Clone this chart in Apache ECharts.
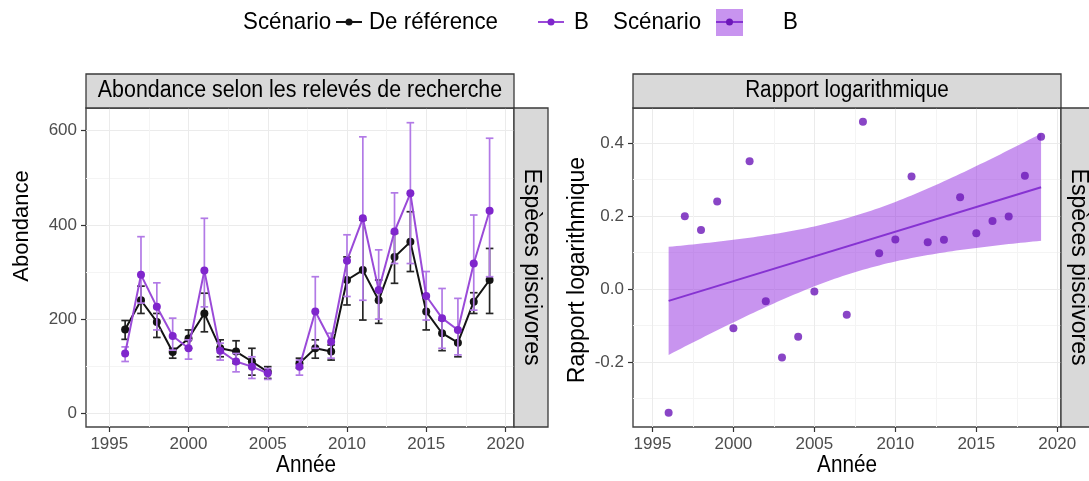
<!DOCTYPE html>
<html>
<head>
<meta charset="utf-8">
<script src="https://cdn.jsdelivr.net/npm/echarts@6/dist/echarts.min.js"></script>
<style>
  html, body { margin: 0; padding: 0; background: #ffffff; }
  #chart { width: 1089px; height: 481px; }
</style>
</head>
<body>
<div id="chart"></div>
<script>
// Survey years (2006 has no survey)
const years = [1996, 1997, 1998, 1999, 2000, 2001, 2002, 2003, 2004, 2005, 2006,
               2007, 2008, 2009, 2010, 2011, 2012, 2013, 2014, 2015, 2016, 2017, 2018, 2019];

// Scénario de référence: abundance and interval bounds
const refMean = [178, 240, 194, 130, 159, 212, 138, 131, 110, 88, null,
                 106, 138, 131, 283, 304, 240, 332, 364, 216, 170, 150, 237, 283];
const refLow  = [157, 212, 161, 117, 138, 173, 120, 106, 81, 74, null,
                 96, 117, 113, 230, 198, 191, 276, 301, 177, 133, 120, 212, 212];
const refHigh = [197, 270, 212, 138, 177, 255, 156, 154, 138, 99, null,
                 117, 156, 145, 332, 410, 283, 382, 428, 248, 198, 177, 256, 350];

// Scénario B: abundance and interval bounds
const bMean = [127, 294, 226, 164, 138, 303, 133, 110, 99, 85, null,
               99, 216, 152, 324, 414, 262, 386, 467, 249, 202, 177, 318, 430];
const bLow  = [110, 234, 177, 134, 115, 226, 113, 88, 74, 72, null,
               81, 138, 117, 248, 240, 200, 318, 318, 198, 138, 124, 219, 290];
const bHigh = [141, 375, 277, 202, 156, 414, 149, 127, 120, 95, null,
               113, 290, 170, 379, 587, 347, 468, 617, 301, 265, 244, 421, 584];

// Log ratio B / référence
const logRatio = [-0.340, 0.200, 0.162, 0.240, -0.108, 0.351, -0.034, -0.188, -0.131, -0.007, null,
                  -0.071, 0.459, 0.098, 0.136, 0.309, 0.128, 0.135, 0.252, 0.153, 0.187, 0.199, 0.311, 0.418];

// Tick labels
const yearTicks = [1995, 2000, 2005, 2010, 2015, 2020];
const yearMinor = [1997.5, 2002.5, 2007.5, 2012.5, 2017.5];
const abundTicks = [0, 200, 400, 600];
const abundMinor = [100, 300, 500];
const ratioTicks = [-0.2, 0.0, 0.2, 0.4];
const ratioMinor = [-0.3, -0.1, 0.1, 0.3];

// ---- linear fit with 95% confidence band (lm) ----
const pairs = years.map((y, i) => [y, logRatio[i]]).filter(p => p[1] != null);
const n = pairs.length;
const mx = pairs.reduce((s, p) => s + p[0], 0) / n;
const my = pairs.reduce((s, p) => s + p[1], 0) / n;
let sxx = 0, sxy = 0;
pairs.forEach(p => { sxx += (p[0] - mx) ** 2; sxy += (p[0] - mx) * (p[1] - my); });
const slope = sxy / sxx;
const intercept = my - slope * mx;
const fit = x => intercept + slope * x;
let sse = 0;
pairs.forEach(p => { sse += (p[1] - fit(p[0])) ** 2; });
const sRes = Math.sqrt(sse / (n - 2));
const T_CRIT = 2.080; // t(0.975, df = 21)
const xFirst = pairs[0][0], xLast = pairs[n - 1][0];
const bandUpper = [], bandLower = [];
for (let k = 0; k <= 92; k++) {
  const x = xFirst + (xLast - xFirst) * k / 92;
  const half = T_CRIT * sRes * Math.sqrt(1 / n + (x - mx) ** 2 / sxx);
  bandUpper.push([x, fit(x) + half]);
  bandLower.push([x, fit(x) - half]);
}

// ---- styling ----
const FONT = "'Liberation Sans', Arial, sans-serif";
const BLACK = '#141414';
const PURPLE_LINE = '#9a4ad8';
const PURPLE_BAR = '#b27ae6';
const PURPLE_PT = '#7f26cc';
const FIT_LINE = '#8633d2';
const RATIO_PT = '#6c17b8';
const BAND_FILL = 'rgba(150, 50, 225, 0.52)';
const STRIP_FILL = '#d9d9d9';
const STRIP_STROKE = '#3a3a3a';

function errorBars(color) {
  return function (params, api) {
    const x = api.value(0);
    const lo = api.coord([x, api.value(1)]);
    const hi = api.coord([x, api.value(2)]);
    const hw = 3.8;
    const style = { stroke: color, lineWidth: 1.7, fill: null };
    return {
      type: 'group',
      children: [
        { type: 'line', shape: { x1: lo[0], y1: lo[1], x2: hi[0], y2: hi[1] }, style },
        { type: 'line', shape: { x1: lo[0] - hw, y1: lo[1], x2: lo[0] + hw, y2: lo[1] }, style },
        { type: 'line', shape: { x1: hi[0] - hw, y1: hi[1], x2: hi[0] + hw, y2: hi[1] }, style }
      ]
    };
  };
}

const barData = (lo, hi) => years.map((y, i) => [y, lo[i], hi[i]]).filter(d => d[1] != null);
const lineData = vals => years.map((y, i) => [y, vals[i] == null ? '-' : vals[i]]);

const tickStyle = { color: '#333', width: 1.2 };
const labelStyle = { color: '#4d4d4d', fontSize: 17, fontFamily: FONT, margin: 9 };

function mainX(gridIndex, min, max) {
  return {
    type: 'value', gridIndex, min, max,
    axisLine: { show: false, onZero: false },
    axisTick: { show: true, length: 5, lineStyle: tickStyle, customValues: yearTicks },
    axisLabel: Object.assign({ customValues: yearTicks, formatter: v => String(v) }, labelStyle),
    splitLine: { show: true, lineStyle: { color: '#ebebeb', width: 1 } }
  };
}
function minorX(gridIndex, min, max) {
  return {
    type: 'value', gridIndex, min, max,
    axisLine: { show: false, onZero: false },
    axisTick: { show: false, customValues: yearMinor },
    axisLabel: { show: false, customValues: yearMinor },
    splitLine: { show: true, lineStyle: { color: '#f4f4f4', width: 1 } }
  };
}
function mainY(gridIndex, min, max, ticks, fmt) {
  return {
    type: 'value', gridIndex, min, max,
    axisLine: { show: false, onZero: false },
    axisTick: { show: true, length: 5, lineStyle: tickStyle, customValues: ticks },
    axisLabel: Object.assign({ customValues: ticks, formatter: fmt }, labelStyle),
    splitLine: { show: true, lineStyle: { color: '#ebebeb', width: 1 } }
  };
}
function minorY(gridIndex, min, max, ticks) {
  return {
    type: 'value', gridIndex, min, max,
    axisLine: { show: false, onZero: false },
    axisTick: { show: false, customValues: ticks },
    axisLabel: { show: false, customValues: ticks },
    splitLine: { show: true, lineStyle: { color: '#f4f4f4', width: 1 } }
  };
}

const chart = echarts.init(document.getElementById('chart'), null, { renderer: 'canvas' });

// Text helper: centred text, optional rotation and horizontal squeeze
const label = (text, x, y, size, opts) => Object.assign({
  type: 'text', x, y, z: 100,
  style: { text, fill: '#000', font: `${size}px ${FONT}`, textAlign: 'center', textVerticalAlign: 'middle' }
}, opts || {});
const legendText = (text, x) => ({
  type: 'text', x, y: 22, scaleX: 0.93, z: 100,
  style: { text, fill: '#000', font: `24px ${FONT}`, textVerticalAlign: 'middle' }
});

const option = {
  animation: false,
  backgroundColor: '#ffffff',
  grid: [
    { left: 86, right: 1089 - 514, top: 108, bottom: 481 - 427, show: true, borderColor: '#444', borderWidth: 1.4, backgroundColor: '#fff' },
    { left: 633, right: 1089 - 1061, top: 108, bottom: 481 - 427, show: true, borderColor: '#444', borderWidth: 1.4, backgroundColor: '#fff' }
  ],
  xAxis: [
    mainX(0, 1993.53, 2020.54),
    minorX(0, 1993.53, 2020.54),
    mainX(1, 1993.8, 2020.23),
    minorX(1, 1993.8, 2020.23)
  ],
  yAxis: [
    mainY(0, -29.1, 648.2, abundTicks, v => String(v)),
    minorY(0, -29.1, 648.2, abundMinor),
    mainY(1, -0.379, 0.497, ratioTicks, v => v.toFixed(1)),
    minorY(1, -0.379, 0.497, ratioMinor)
  ],
  series: [
    // Abondance: référence
    { type: 'custom', xAxisIndex: 0, yAxisIndex: 0, renderItem: errorBars('#262626'),
      encode: { x: 0, y: [1, 2] }, data: barData(refLow, refHigh), z: 2 },
    { type: 'line', xAxisIndex: 0, yAxisIndex: 0, data: lineData(refMean), connectNulls: false,
      symbol: 'circle', symbolSize: 8, itemStyle: { color: BLACK },
      lineStyle: { color: BLACK, width: 2 }, z: 3 },
    // Abondance: B
    { type: 'custom', xAxisIndex: 0, yAxisIndex: 0, renderItem: errorBars(PURPLE_BAR),
      encode: { x: 0, y: [1, 2] }, data: barData(bLow, bHigh), z: 4 },
    { type: 'line', xAxisIndex: 0, yAxisIndex: 0, data: lineData(bMean), connectNulls: false,
      symbol: 'circle', symbolSize: 8, itemStyle: { color: PURPLE_PT },
      lineStyle: { color: PURPLE_LINE, width: 2 }, z: 5 },
    // Rapport logarithmique: confidence band, fit, points
    { type: 'custom', xAxisIndex: 2, yAxisIndex: 2, encode: { x: 0, y: 1 }, data: [[xFirst, fit(xFirst)]], z: 2,
      renderItem: (params, api) => ({
        type: 'polygon',
        shape: { points: bandUpper.map(p => api.coord(p)).concat(bandLower.slice().reverse().map(p => api.coord(p))) },
        style: { fill: BAND_FILL }
      }) },
    { type: 'line', xAxisIndex: 2, yAxisIndex: 2, data: [[xFirst, fit(xFirst)], [xLast, fit(xLast)]],
      symbol: 'none', lineStyle: { color: FIT_LINE, width: 2 }, z: 3 },
    { type: 'scatter', xAxisIndex: 2, yAxisIndex: 2, data: lineData(logRatio).filter(d => d[1] !== '-'),
      symbol: 'circle', symbolSize: 8, itemStyle: { color: RATIO_PT }, z: 4 }
  ],
  graphic: [
    // Facet strips
    { type: 'rect', shape: { x: 86, y: 74, width: 428, height: 34 }, style: { fill: STRIP_FILL, stroke: STRIP_STROKE, lineWidth: 1.3 }, z: 50 },
    { type: 'rect', shape: { x: 514, y: 108, width: 34, height: 319 }, style: { fill: STRIP_FILL, stroke: STRIP_STROKE, lineWidth: 1.3 }, z: 50 },
    { type: 'rect', shape: { x: 633, y: 74, width: 428, height: 34 }, style: { fill: STRIP_FILL, stroke: STRIP_STROKE, lineWidth: 1.3 }, z: 50 },
    { type: 'rect', shape: { x: 1061, y: 108, width: 40, height: 319 }, style: { fill: STRIP_FILL, stroke: STRIP_STROKE, lineWidth: 1.3 }, z: 50 },
    label('Abondance selon les relevés de recherche', 300, 91, 23, { scaleX: 0.93 }),
    label('Rapport logarithmique', 847, 91, 23, { scaleX: 0.9 }),
    label('Espèces piscivores', 531, 267, 23, { rotation: -Math.PI / 2 }),
    label('Espèces piscivores', 1078, 267, 23, { rotation: -Math.PI / 2 }),
    // Axis titles
    label('Année', 306, 466, 23, { scaleX: 0.9 }),
    label('Année', 847, 466, 23, { scaleX: 0.9 }),
    label('Abondance', 22, 226, 22, { rotation: Math.PI / 2 }),
    label('Rapport logarithmique', 578, 270, 23, { rotation: Math.PI / 2 }),
    // Legend
    legendText('Scénario', 243),
    { type: 'line', shape: { x1: 336, y1: 22, x2: 362, y2: 22 }, style: { stroke: BLACK, lineWidth: 2 } },
    { type: 'circle', shape: { cx: 349, cy: 22, r: 3.5 }, style: { fill: BLACK } },
    legendText('De référence', 369),
    { type: 'line', shape: { x1: 538, y1: 22, x2: 564, y2: 22 }, style: { stroke: PURPLE_LINE, lineWidth: 2 } },
    { type: 'circle', shape: { cx: 551, cy: 22, r: 3.5 }, style: { fill: PURPLE_PT } },
    legendText('B', 574),
    legendText('Scénario', 613),
    { type: 'rect', shape: { x: 716, y: 9, width: 27, height: 27 }, style: { fill: BAND_FILL } },
    { type: 'line', shape: { x1: 716, y1: 22, x2: 743, y2: 22 }, style: { stroke: FIT_LINE, lineWidth: 2 } },
    { type: 'circle', shape: { cx: 729.5, cy: 22, r: 3.5 }, style: { fill: RATIO_PT } },
    legendText('B', 783)
  ]
};

chart.setOption(option);
</script>
</body>
</html>
